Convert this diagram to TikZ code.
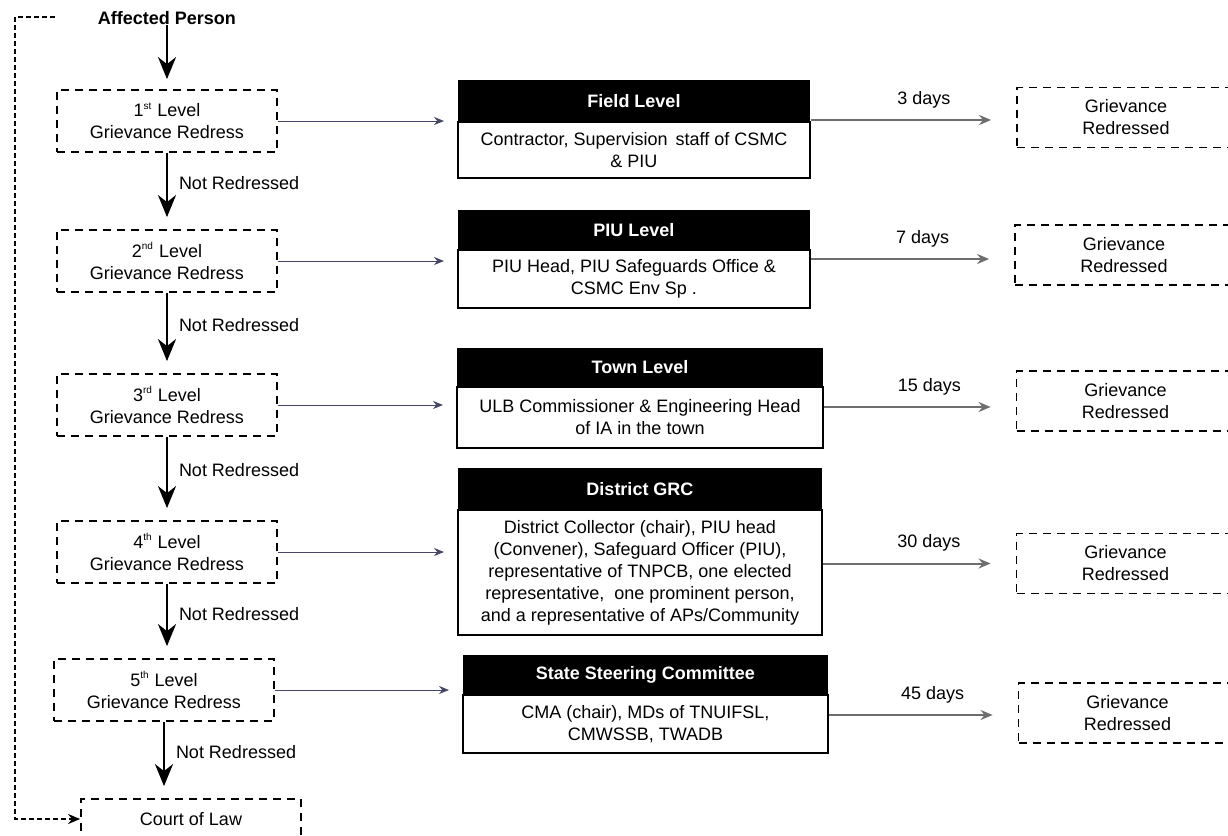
\documentclass[tikz,border=0pt]{standalone}
\usepackage{fontspec}
\setmainfont{Liberation Sans}
\usetikzlibrary{arrows.meta,calc}
\definecolor{slate}{RGB}{70,70,105}
\definecolor{gr}{RGB}{110,110,110}
\newcommand{\sps}[1]{\textsuperscript{\fontsize{5}{5}\selectfont #1}}
\begin{document}
\begin{tikzpicture}[x=0.5pt,y=-0.5pt,
  every node/.style={font=\fontsize{9}{11}\selectfont, inner sep=0pt, align=center},
  lvl/.style={draw, dashed, dash pattern=on 4pt off 3pt, line width=0.9pt, minimum width=110pt, minimum height=31pt},
  res/.style={lvl, minimum width=109pt, minimum height=30pt},
  hdr/.style={fill=black, text=white, font=\fontsize{9}{11}\selectfont\bfseries},
  bodybox/.style={draw, line width=1pt, fill=white},
  down/.style={line width=1pt, -{Stealth[length=11pt,width=9pt,inset=3.5pt]}, shorten >=6pt},
  nr/.style={right, xshift=5.5pt, pos=0.4},
  side/.style={line width=0.5pt, draw=slate, -{Stealth[length=5pt,width=4pt]}, shorten >=6.5pt},
  outr/.style={line width=1pt, draw=gr, -{Stealth[length=6pt,width=5pt]}, shorten >=12.5pt},
  dl/.style={above, yshift=5.5pt, pos=0.55},
  fback/.style={line width=1pt, dash pattern=on 2.5pt off 1.5pt, -{Stealth[length=6pt,width=5pt]}}
]
\clip (0,0) rectangle (1228,836);
\fill[white] (0,0) rectangle (1228,836);

% left column
\node[font=\fontsize{9}{11}\selectfont\bfseries] (AP) at (167,18) {Affected Person};
\node[lvl] (L1) at (167,121) {1\sps{st} Level\\Grievance Redress};
\node[lvl] (L2) at (167,261) {2\sps{nd} Level\\Grievance Redress};
\node[lvl] (L3) at (167,405) {3\sps{rd} Level\\Grievance Redress};
\node[lvl] (L4) at (167,552) {4\sps{th} Level\\Grievance Redress};
\node[lvl] (L5) at (164,690) {5\sps{th} Level\\Grievance Redress};
\node[lvl, minimum height=20pt] (CL) at (191,819) {Court of Law};

% middle column
\node[hdr, minimum width=176pt, minimum height=21pt] (H1) at (634,101) {Field Level};
\node[bodybox, minimum width=176pt, minimum height=28pt] (B1) at (634,150) {Contractor, Supervision\, staff of CSMC\\\& PIU};
\node[hdr, minimum width=176pt, minimum height=20pt] (H2) at (634,230) {PIU Level};
\node[bodybox, minimum width=176pt, minimum height=29pt] (B2) at (634,279) {PIU Head, PIU Safeguards Office \&\\CSMC Env Sp .};
\node[hdr, minimum width=183pt, minimum height=19.5pt] (H3) at (640,367.5) {Town Level};
\node[bodybox, minimum width=183pt, minimum height=30.5pt] (B3) at (640,417.5) {ULB Commissioner \& Engineering Head\\of IA in the town};
\node[hdr, minimum width=182pt, minimum height=21pt] (H4) at (640,489) {District GRC};
\node[bodybox, minimum width=182pt, minimum height=62.5pt] (B4) at (640,572.5) {District Collector (chair), PIU head\\(Convener), Safeguard Officer (PIU),\\representative of TNPCB, one elected\\representative,\ \ one prominent person,\\and a representative of APs/Community};
\node[hdr, minimum width=182.5pt, minimum height=20pt] (H5) at (645.5,675) {State Steering Committee};
\node[bodybox, minimum width=182.5pt, minimum height=29pt] (B5) at (645.5,724) {CMA (chair), MDs of TNUIFSL,\\CMWSSB, TWADB};

% right column
\node[res] (R1) at (1126,117.5) {Grievance\\Redressed};
\node[res] (R2) at (1124,255) {Grievance\\Redressed};
\node[res] (R3) at (1125.5,401) {Grievance\\Redressed};
\node[res] (R4) at (1125.5,563.5) {Grievance\\Redressed};
\node[res] (R5) at (1127.5,713) {Grievance\\Redressed};

% vertical arrows
\draw[down, shorten >=5pt] (AP.south) -- (L1.north);
\draw[down] (L1.south) -- node[nr]{Not Redressed} (L2.north);
\draw[down] (L2.south) -- node[nr]{Not Redressed} (L3.north);
\draw[down] (L3.south) -- node[nr]{Not Redressed} (L4.north);
\draw[down] (L4.south) -- node[nr]{Not Redressed} (L4.south |- L5.north);
\draw[down] (L5.south) -- node[nr]{Not Redressed} (L5.south |- CL.north);

% level -> committee
\draw[side] (L1.east) -- (L1.east -| B1.west);
\draw[side] (L2.east) -- (L2.east -| B2.west);
\draw[side] (L3.east) -- (L3.east -| B3.west);
\draw[side] (L4.east) -- (L4.east -| B4.west);
\draw[side] (L5.east) -- (L5.east -| B5.west);

% committee -> redressed
\draw[outr] ($(B1.east |- R1.west)+(0,2.5)$) -- node[dl]{3 days} ($(R1.west)+(0,2.5)$);
\draw[outr] ($(B2.east |- R2.west)+(0,4)$) -- node[dl]{7 days} ($(R2.west)+(0,4)$);
\draw[outr] ($(B3.east |- R3.west)+(0,6)$) -- node[dl]{15 days} ($(R3.west)+(0,6)$);
\draw[outr] (B4.east |- R4.west) -- node[dl]{30 days} (R4.west);
\draw[outr] ($(B5.east |- R5.west)+(0,2)$) -- node[dl]{45 days} ($(R5.west)+(0,2)$);

% feedback to court
\coordinate (fbs) at (55,17);
\coordinate (fbc) at (15,17);
\draw[fback] (fbs) -- (fbc) |- (CL.west);
\end{tikzpicture}
\end{document}
